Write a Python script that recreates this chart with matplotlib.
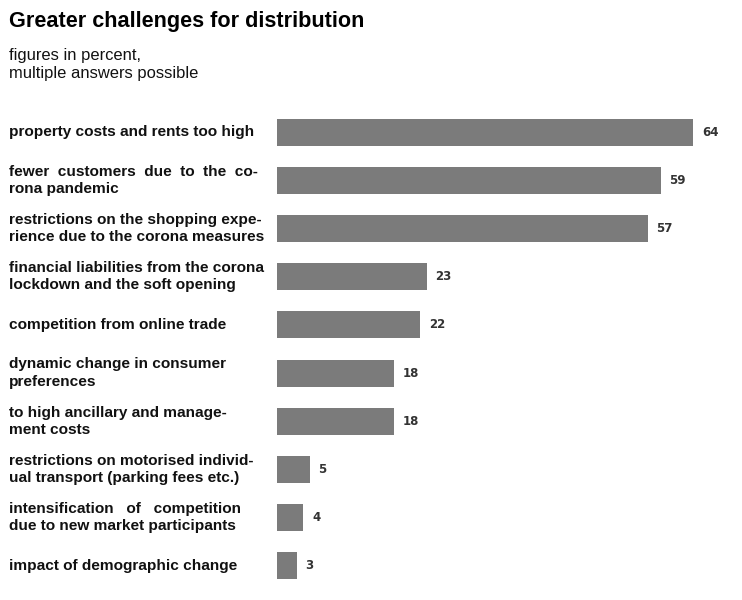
import matplotlib.pyplot as plt
from matplotlib.transforms import blended_transform_factory

labels = [
    "property costs and rents too high",
    "fewer  customers  due  to  the  co-\nrona pandemic",
    "restrictions on the shopping expe-\nrience due to the corona measures",
    "financial liabilities from the corona\nlockdown and the soft opening",
    "competition from online trade",
    "dynamic change in consumer\npreferences",
    "to high ancillary and manage-\nment costs",
    "restrictions on motorised individ-\nual transport (parking fees etc.)",
    "intensification   of   competition\ndue to new market participants",
    "impact of demographic change",
]
values = [64, 59, 57, 23, 22, 18, 18, 5, 4, 3]

W, H = 742, 600
fig = plt.figure(figsize=(W / 100, H / 100), dpi=100)

# bar area: left edge at x=277px, running to the right border
ax = fig.add_axes([277 / W, 1 - 590 / H, 1 - 277 / W, (590 - 108) / H])
ypos = list(range(len(values)))
ax.barh(ypos, values, height=0.56, color="#7b7b7b")
ax.set_xlim(0, (W - 277) / 6.5)
ax.set_ylim(len(values) - 0.5, -0.5)
ax.axis("off")

for y, v in zip(ypos, values):
    ax.annotate(str(v), (v, y), xytext=(6.5, 0), textcoords="offset points",
                va="center", ha="left", fontsize=8.5, fontweight="bold",
                color="#333333", family="DejaVu Sans")

trans = blended_transform_factory(fig.transFigure, ax.transData)
for y, lab in zip(ypos, labels):
    ax.text(9 / W, y, lab, transform=trans, ha="left", va="center",
            fontsize=11.1, fontweight="bold", family="Liberation Sans",
            color="#111111", linespacing=1.3)

fig.text(9 / W, 1 - 21.5 / H, "Greater challenges for distribution",
         ha="left", va="center", fontsize=15.6, fontweight="bold",
         family="Liberation Sans", color="#000000")
fig.text(9 / W, 1 - 64.5 / H, "figures in percent,\nmultiple answers possible",
         ha="left", va="center", fontsize=11.9, family="Liberation Sans",
         color="#111111", linespacing=1.2)

fig.savefig("out.png", dpi=100, facecolor="white")
